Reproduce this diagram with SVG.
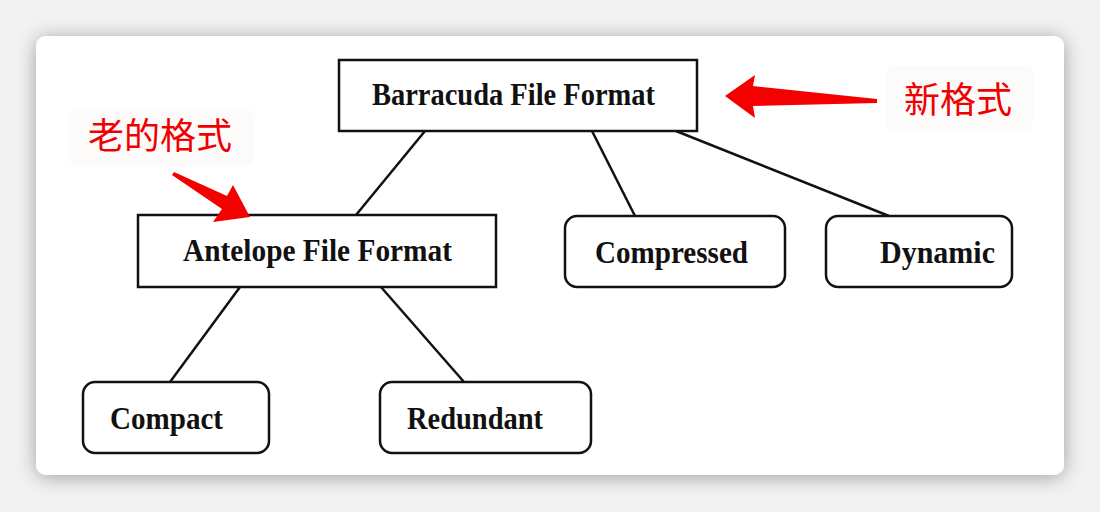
<svg xmlns="http://www.w3.org/2000/svg" width="1100" height="512" viewBox="0 0 1100 512">
<defs>
<filter id="sh" x="-10%" y="-10%" width="120%" height="120%">
<feGaussianBlur in="SourceAlpha" stdDeviation="10"/>
<feOffset dy="2"/>
<feComponentTransfer><feFuncA type="linear" slope="0.35"/></feComponentTransfer>
<feMerge><feMergeNode/><feMergeNode in="SourceGraphic"/></feMerge>
</filter>
<style>
.box{fill:#fff;stroke:#111;stroke-width:2.5}
.t{font-family:"Liberation Serif","Times New Roman",serif;font-weight:bold;font-size:32px;fill:#111}
.c{stroke:#111;stroke-width:2.5;fill:none}
.cn{font-family:"Noto Sans CJK SC","Noto Sans",sans-serif;font-size:36px;fill:#f00000}
.lb{fill:#fcfbfa}
.ar{fill:#f50000}
</style>
</defs>
<rect width="1100" height="512" fill="#f2f2f2"/>
<rect x="36" y="36" width="1028" height="439" rx="10" fill="#fff" filter="url(#sh)"/>
<g id="connectors">
<line class="c" x1="425" y1="131" x2="356" y2="215"/>
<line class="c" x1="592" y1="131" x2="635" y2="216"/>
<line class="c" x1="676" y1="131" x2="889" y2="216"/>
<line class="c" x1="240" y1="287" x2="170" y2="382"/>
<line class="c" x1="381" y1="287" x2="464" y2="382"/>
</g>
<g id="barracuda">
<rect class="box" x="339" y="60" width="358" height="71"/>
<text class="t" x="372" y="105" textLength="283" lengthAdjust="spacingAndGlyphs">Barracuda File Format</text>
</g>
<g id="antelope">
<rect class="box" x="138" y="215" width="358" height="72"/>
<text class="t" x="183" y="261" textLength="269" lengthAdjust="spacingAndGlyphs">Antelope File Format</text>
</g>
<g id="compressed">
<rect class="box" x="565" y="216" width="220" height="71" rx="12"/>
<text class="t" x="595" y="263" textLength="153" lengthAdjust="spacingAndGlyphs">Compressed</text>
</g>
<g id="dynamic">
<rect class="box" x="826" y="216" width="186" height="71" rx="12"/>
<text class="t" x="880" y="263" textLength="115" lengthAdjust="spacingAndGlyphs">Dynamic</text>
</g>
<g id="compact">
<rect class="box" x="83" y="382" width="186" height="71" rx="12"/>
<text class="t" x="110" y="429" textLength="113" lengthAdjust="spacingAndGlyphs">Compact</text>
</g>
<g id="redundant">
<rect class="box" x="380" y="382" width="211" height="71" rx="12"/>
<text class="t" x="407" y="429" textLength="136" lengthAdjust="spacingAndGlyphs">Redundant</text>
</g>
<g id="new-label">
<rect class="lb" x="886" y="66" width="147" height="66" rx="8"/>
<text class="cn" x="958" y="113" text-anchor="middle">新格式</text>
<polygon class="ar" points="725,96 755,75 753,86 877,99 877,103 753,106 755,118"/>
</g>
<g id="old-label">
<rect class="lb" x="68" y="108" width="185" height="57" rx="8"/>
<text class="cn" x="160" y="149" text-anchor="middle">老的格式</text>
<polygon class="ar" points="250,217 213,222 222,209 172,175 174,172 227,196 233,185"/>
</g>
</svg>
